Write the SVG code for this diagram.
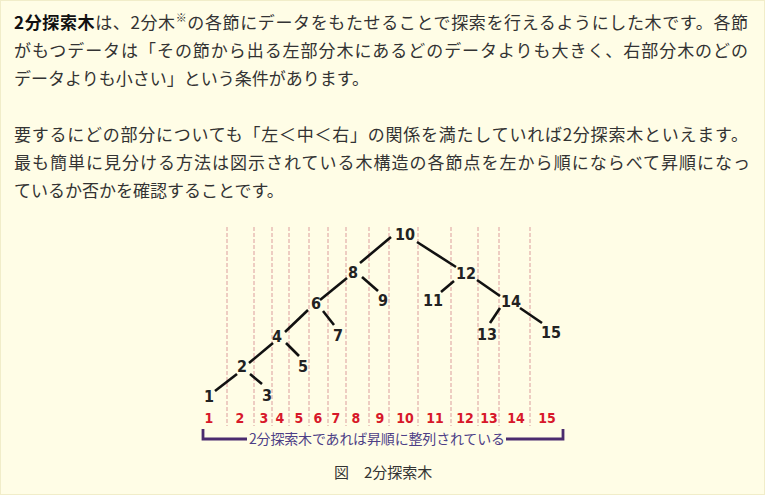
<svg xmlns="http://www.w3.org/2000/svg" width="765" height="495" viewBox="0 0 765 495">
<style>
.jp{font-family:"Noto Sans CJK JP","Noto Sans",sans-serif;font-size:17px;fill:#333}
.node{font-family:"DejaVu Sans Condensed","DejaVu Sans",sans-serif;font-size:16px;font-weight:bold;fill:#222;text-anchor:middle}
.idx{font-family:"DejaVu Sans Condensed","DejaVu Sans",sans-serif;font-size:14px;font-weight:bold;fill:#d7182a;text-anchor:middle}
.edge{stroke:#111;stroke-width:2.6;stroke-linecap:butt;fill:none}
.guide{stroke:#dc9d9d;stroke-width:1;stroke-dasharray:4 2;fill:none}
</style>
<rect x="0" y="0" width="765" height="495" fill="#fffde6"/>
<rect x="0.5" y="0.5" width="764" height="494" fill="none" stroke="#f1edc9"/>

<g id="paragraph1">
<text class="jp" x="14" y="29" textLength="734" lengthAdjust="spacing"><tspan font-weight="bold" fill="#111">2分探索木</tspan>は、2分木<tspan font-size="11" dy="-7">※</tspan><tspan dy="7">の各節にデータをもたせることで探索を行えるようにした木です。各節</tspan></text>
<text class="jp" x="14" y="57" textLength="734" lengthAdjust="spacing">がもつデータは「その節から出る左部分木にあるどのデータよりも大きく、右部分木のどの</text>
<text class="jp" x="14" y="85">データよりも小さい」という条件があります。</text>
</g>
<g id="paragraph2">
<text class="jp" x="14" y="141" textLength="734" lengthAdjust="spacing">要するにどの部分についても「左＜中＜右」の関係を満たしていれば2分探索木といえます。</text>
<text class="jp" x="14" y="169" textLength="736" lengthAdjust="spacing">最も簡単に見分ける方法は図示されている木構造の各節点を左から順にならべて昇順になっ</text>
<text class="jp" x="14" y="197">ているか否かを確認することです。</text>
</g>

<g id="guides">
<path class="guide" d="M227,227V426M254,227V426M272,227V426M289,227V426M309,227V426M328,227V426M346,227V426M369,227V426M389,227V426M418,227V426M451,227V426M478,227V426M499,227V426M530,227V426"/>
</g>

<g id="connectors">
<path class="edge" d="M391,237L360,263"/>
<path class="edge" d="M362,277L378,291"/>
<path class="edge" d="M347,278L320,300"/>
<path class="edge" d="M323,311L334,325"/>
<path class="edge" d="M308,310L285,332"/>
<path class="edge" d="M286,343L299,356"/>
<path class="edge" d="M273,343L249,363"/>
<path class="edge" d="M250,374L262,384"/>
<path class="edge" d="M237,374L215,391"/>
<path class="edge" d="M417,242L456,267"/>
<path class="edge" d="M454,281L441,292"/>
<path class="edge" d="M477,280L500,296"/>
<path class="edge" d="M500,308L490,323"/>
<path class="edge" d="M520,308L542,323"/>
</g>

<g id="n10"><text class="node" x="405" y="240">10</text></g>
<g id="n8"><text class="node" x="353" y="278">8</text></g>
<g id="n12"><text class="node" x="466" y="279">12</text></g>
<g id="n6"><text class="node" x="316" y="309">6</text></g>
<g id="n9"><text class="node" x="383" y="306">9</text></g>
<g id="n11"><text class="node" x="433" y="306">11</text></g>
<g id="n14"><text class="node" x="511" y="307">14</text></g>
<g id="n4"><text class="node" x="277" y="342">4</text></g>
<g id="n7"><text class="node" x="338" y="341">7</text></g>
<g id="n13"><text class="node" x="487" y="340">13</text></g>
<g id="n15"><text class="node" x="551" y="338">15</text></g>
<g id="n2"><text class="node" x="242" y="372">2</text></g>
<g id="n5"><text class="node" x="303" y="372">5</text></g>
<g id="n1"><text class="node" x="209" y="402">1</text></g>
<g id="n3"><text class="node" x="267" y="401">3</text></g>

<g id="order">
<text class="idx" x="209" y="423">1</text>
<text class="idx" x="240" y="423">2</text>
<text class="idx" x="264" y="423">3</text>
<text class="idx" x="280" y="423">4</text>
<text class="idx" x="299" y="423">5</text>
<text class="idx" x="318" y="423">6</text>
<text class="idx" x="336" y="423">7</text>
<text class="idx" x="356" y="423">8</text>
<text class="idx" x="380" y="423">9</text>
<text class="idx" x="405" y="423">10</text>
<text class="idx" x="435" y="423">11</text>
<text class="idx" x="465" y="423">12</text>
<text class="idx" x="489" y="423">13</text>
<text class="idx" x="516" y="423">14</text>
<text class="idx" x="547" y="423">15</text>
</g>

<g id="bracket">
<path d="M203,429V439H247M506,439H563V429" fill="none" stroke="#4a2b6e" stroke-width="2.8"/>
<text x="377" y="444" font-family="'Noto Sans CJK JP',sans-serif" font-size="14" fill="#4d3f86" text-anchor="middle" textLength="256" lengthAdjust="spacing">2分探索木であれば昇順に整列されている</text>
</g>

<g id="caption">
<text x="334" y="478" font-family="'Noto Sans CJK JP',sans-serif" font-size="15" fill="#333">図　2分探索木</text>
</g>
</svg>
